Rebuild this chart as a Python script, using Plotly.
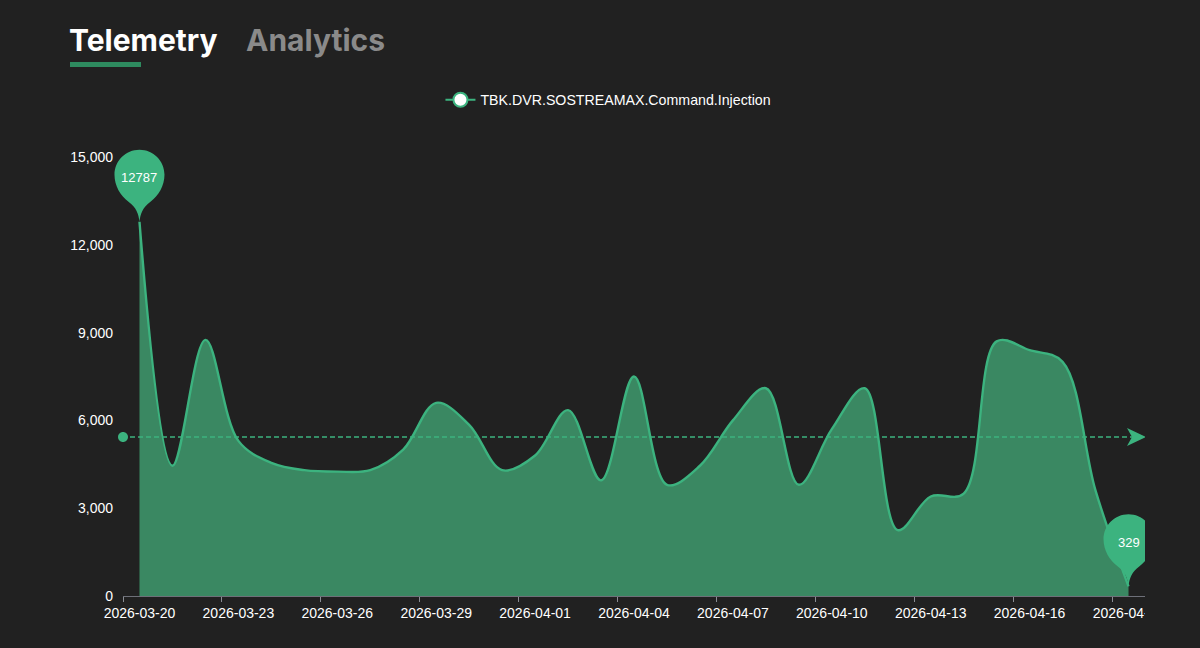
import plotly.graph_objects as go

# chart data, one value per day
dates = ["2026-03-20", "2026-03-21", "2026-03-22", "2026-03-23", "2026-03-24", "2026-03-25",
         "2026-03-26", "2026-03-27", "2026-03-28", "2026-03-29", "2026-03-30", "2026-03-31",
         "2026-04-01", "2026-04-02", "2026-04-03", "2026-04-04", "2026-04-05", "2026-04-06",
         "2026-04-07", "2026-04-08", "2026-04-09", "2026-04-10", "2026-04-11", "2026-04-12",
         "2026-04-13", "2026-04-14", "2026-04-15", "2026-04-16", "2026-04-17", "2026-04-18",
         "2026-04-19"]
values = [12787, 4450, 8750, 5300, 4550, 4300,
          4250, 4300, 5000, 6600, 5850, 4300,
          4800, 6350, 3950, 7500, 3800, 4450,
          6000, 7100, 3800, 5700, 7100, 2250,
          3400, 3500, 8700, 8400, 8000, 3600,
          329]
series_name = "TBK.DVR.SOSTREAMAX.Command.Injection"
mean_value = 5433
y_ticks = [0, 3000, 6000, 9000, 12000, 15000]

GREEN = "#3cb37f"
FILL = "#3a8862"
BG = "#212121"
AXIS = "#6e7079"
Y_MAX = 15000

LEFT, RIGHT, TOP, BOTTOM = 123, 1145, 157, 596
xpaper = lambda px: (px - LEFT) / (RIGHT - LEFT)
ypaper = lambda px: (BOTTOM - px) / (BOTTOM - TOP)

# pin outline in pixels, tip at the origin
PIN = ("M 0 0 C 1 8 3 14 11 20 C 19 26 25 36 25 47 C 25 60.8 13.8 72 0 72 "
       "C -13.8 72 -25 60.8 -25 47 C -25 36 -19 26 -11 20 C -3 14 -1 8 0 0 Z")
ARROW = "M 1 0 L -18 9 L -13 0 L -18 -9 Z"
DOT = "M -5 0 C -5 2.8 -2.8 5 0 5 C 2.8 5 5 2.8 5 0 C 5 -2.8 2.8 -5 0 -5 C -2.8 -5 -5 -2.8 -5 0 Z"


# paper refs so the mark is not clipped to the plot area
def anchored(path, x_frac, y):
    return dict(type="path", path=path, xref="paper", yref="paper", xsizemode="pixel", ysizemode="pixel",
                xanchor=x_frac, yanchor=y / Y_MAX,
                fillcolor=GREEN, line=dict(width=0), layer="above")


fig = go.Figure()

# data curve
fig.add_trace(go.Scatter(
    x=dates, y=values, mode="lines", showlegend=False, hoverinfo="skip",
    line=dict(color=GREEN, width=2.4, shape="spline", smoothing=1.0),
    fill="tozeroy", fillcolor=FILL,
))

# legend entry only
fig.add_trace(go.Scatter(
    x=[None], y=[None], mode="lines+markers", name=series_name,
    line=dict(color=GREEN, width=2),
    marker=dict(color="white", size=14, line=dict(color=GREEN, width=2)),
))

imax = values.index(max(values))
imin = values.index(min(values))

shapes = [
    # mean line
    dict(type="line", xref="paper", yref="y", x0=xpaper(130), x1=1, y0=mean_value, y1=mean_value,
         line=dict(color=GREEN, width=1.4, dash="5px,3px"), layer="above"),
    anchored(DOT, 0, mean_value),
    anchored(ARROW, 1, mean_value),
    anchored(PIN, (imax + 0.5) / len(dates), values[imax]),
    anchored(PIN, (imin + 0.5) / len(dates), values[imin]),
    # right edge of the canvas cuts off the last label and pin
    dict(type="rect", xref="paper", yref="paper", x0=1, x1=1.06, y0=-0.2, y1=1.1,
         fillcolor=BG, line=dict(width=0), layer="above"),
    # active tab underline
    dict(type="rect", xref="paper", yref="paper", x0=xpaper(70), x1=xpaper(141),
         y0=ypaper(67), y1=ypaper(62), fillcolor="#2e8b5f", line=dict(width=0), layer="above"),
]

annotations = [
    dict(text="Telemetry", xref="paper", yref="paper", x=xpaper(67), y=ypaper(40), xanchor="left",
         yanchor="middle", showarrow=False, font=dict(family="Inter", size=30, color="white", weight=700)),
    dict(text="Analytics", xref="paper", yref="paper", x=xpaper(244), y=ypaper(40), xanchor="left",
         yanchor="middle", showarrow=False, font=dict(family="Inter", size=30, color="#8a8a8a", weight=700)),
]
for i in (imax, imin):
    annotations.append(dict(text=str(values[i]), x=dates[i], y=values[i], xref="x", yref="y", yshift=44,
                            showarrow=False, font=dict(size=13, color="white")))

fig.update_layout(
    width=1200, height=648, margin=dict(l=LEFT, r=1200 - RIGHT, t=TOP, b=648 - BOTTOM),
    paper_bgcolor=BG, plot_bgcolor=BG,
    font=dict(family="Liberation Sans", size=14, color="white"),
    shapes=shapes, annotations=annotations,
    legend=dict(orientation="h", x=0.475, xanchor="center", y=ypaper(100), yanchor="middle",
                bgcolor="rgba(0,0,0,0)", font=dict(size=14.2, color="white")),
)
# band edges carry the tick marks, labels stay on the day centres
fig.update_xaxes(
    type="category", range=[-0.5, len(dates) - 0.5], tick0=0, dtick=3, tickson="boundaries",
    showgrid=False, zeroline=False, showline=True, linecolor=AXIS, linewidth=1,
    ticks="outside", ticklen=5, tickcolor="#8a8d94", tickwidth=1, tickangle=0, ticklabelstandoff=4,
    tickfont=dict(size=14, color="white"), ticklabeloverflow="allow",
)
fig.update_yaxes(
    range=[0, Y_MAX], tickmode="array", tickvals=y_ticks, tickformat=",", ticklabelstandoff=9,
    showgrid=False, zeroline=False, showline=False, ticks="", tickfont=dict(size=14, color="white"),
)

# page margin off so the figure fills the window
fig.write_html("out.html", config={"displayModeBar": False},
               post_script="document.body.style.margin='0';document.body.style.background='#212121';")
